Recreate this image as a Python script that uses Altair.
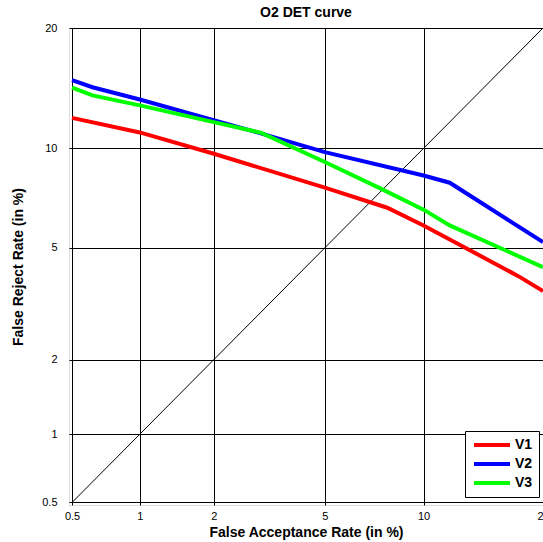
import altair as alt
import pandas as pd
from statistics import NormalDist

# ---- data (percent values) ----
series_names = ["V1", "V2", "V3"]
series_colors = ["#ff0000", "#0000ff", "#00ff00"]

v1_far = [0.5, 1, 2, 5, 7.85, 10, 17.6, 20]
v1_frr = [12.1, 11.06, 9.66, 7.71, 6.70, 5.90, 4.01, 3.57]

v2_far = [0.5, 0.62, 1, 3.0, 5, 10, 11.8, 20]
v2_frr = [15.1, 14.5, 13.5, 11.0, 9.76, 8.37, 7.97, 5.22]

v3_far = [0.5, 0.62, 1, 2, 3.0, 5, 7.48, 10, 11.8, 20]
v3_frr = [14.46, 13.83, 13.04, 11.79, 11.04, 9.15, 7.67, 6.61, 5.90, 4.31]

diag_vals = [0.5, 20]
tick_pcts = [0.5, 1, 2, 5, 10, 20]

# ---- build table ----
rows = []
for name, fa, fr in zip(series_names, [v1_far, v2_far, v3_far], [v1_frr, v2_frr, v3_frr]):
    for i, (a, b) in enumerate(zip(fa, fr)):
        rows.append({"series": name, "far": a, "frr": b, "order": i})
df = pd.DataFrame(rows)
diag_df = pd.DataFrame({"far": diag_vals, "frr": diag_vals})

nd = NormalDist()
tick_vals = [nd.inv_cdf(p / 100) for p in tick_pcts]
label_expr = "format(cumulativeNormal(datum.value) * 100, '.2~r')"

FONT = "Liberation Sans"

x_scale = alt.Scale(domain=[-2.587, nd.inv_cdf(0.2)], nice=False, zero=False)
y_scale = alt.Scale(domain=[-2.585, nd.inv_cdf(0.2)], nice=False, zero=False)

x_axis = alt.Axis(values=tick_vals, labelExpr=label_expr, title="False Acceptance Rate (in %)",
                  grid=True, gridColor="black", gridOpacity=1, gridWidth=1,
                  domain=False, ticks=False, labelPadding=5, labelFontSize=11,
                  labelFont=FONT, labelColor="black", labelOverlap=False, labelFlush=False,
                  titleFont=FONT, titleFontSize=14, titleFontWeight="bold",
                  titleColor="black", titlePadding=4)
y_axis = alt.Axis(values=tick_vals, labelExpr=label_expr, title="False Reject Rate (in %)",
                  grid=True, gridColor="black", gridOpacity=1, gridWidth=1,
                  domain=False, ticks=False, labelPadding=12, labelFontSize=11,
                  labelFont=FONT, labelColor="black", labelOverlap=False, labelFlush=False,
                  titleFont=FONT, titleFontSize=14, titleFontWeight="bold",
                  titleColor="black", titlePadding=16)

base_calc = dict(zx="quantileNormal(datum.far / 100)", zy="quantileNormal(datum.frr / 100)")

diag = alt.Chart(diag_df).transform_calculate(**base_calc).mark_line(
    color="black", strokeWidth=1, clip=True
).encode(
    x=alt.X("zx:Q", scale=x_scale, axis=x_axis),
    y=alt.Y("zy:Q", scale=y_scale, axis=y_axis),
)

lines = alt.Chart(df).transform_calculate(**base_calc).mark_line(
    strokeWidth=4, clip=True
).encode(
    x=alt.X("zx:Q", scale=x_scale, axis=x_axis),
    y=alt.Y("zy:Q", scale=y_scale, axis=y_axis),
    order="order:Q",
    color=alt.Color("series:N",
                    scale=alt.Scale(domain=series_names, range=series_colors),
                    legend=alt.Legend(title=None, orient="none", legendX=396, legendY=403,
                                      direction="vertical", symbolType="M-3,0H3",
                                      symbolStrokeWidth=4, symbolSize=144,
                                      symbolOffset=13,
                                      labelFont=FONT, labelFontSize=14, labelFontWeight="bold",
                                      labelColor="black", labelOffset=15,
                                      strokeColor="black", fillColor="white",
                                      padding=6, rowPadding=3)),
)

chart = alt.layer(diag, lines).properties(
    width=474, height=477,
    padding={"left": 69, "top": 28, "right": 0, "bottom": 37},
    autosize=alt.AutoSizeParams(type="none"),
    title=alt.Title("O2 DET curve", font=FONT, fontSize=14, fontWeight="bold",
                    color="black", offset=2),
).configure_view(stroke="black", strokeWidth=2).configure(background="white")

chart.save("out.html", embed_options={"renderer": "svg", "actions": False})
